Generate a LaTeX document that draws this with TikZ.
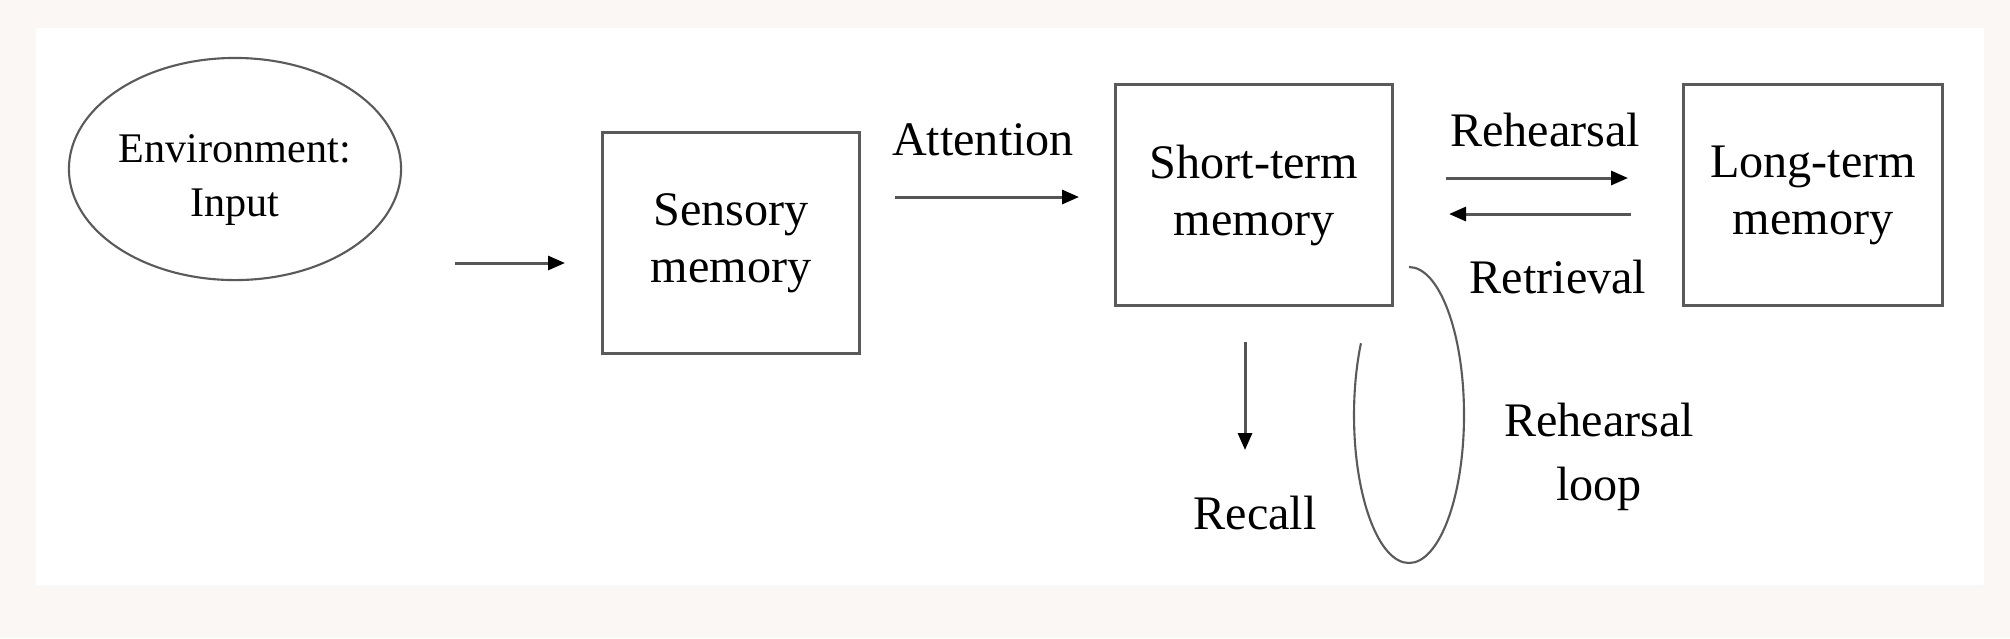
\documentclass[tikz,border=0pt]{standalone}
\usepackage{fontspec}
\setmainfont{Liberation Serif}
\usetikzlibrary{positioning,arrows.meta,shapes.geometric}
\definecolor{pagebg}{HTML}{FAF7F4}
\definecolor{boxline}{HTML}{5A5A5A}
\definecolor{arrowline}{HTML}{555555}

\begin{document}
\begin{tikzpicture}[x=0.01cm,y=-0.01cm,
  memorybox/.style={draw=boxline, line width=0.85pt, minimum height=2.2cm, align=center, font=\fontsize{13.7}{16.2}\selectfont},
  flow/.style={draw=arrowline, line width=0.85pt, -{Triangle[length=0.17cm,width=0.14cm,color=black]}},
  lbl/.style={align=center, font=\fontsize{13.7}{16.2}\selectfont}]
\fill[pagebg] (0,0) rectangle (2010,638);
\fill[white] (36,28) rectangle (1984,585);
\useasboundingbox (0,0) rectangle (2010,638);

% stores
\node[ellipse, draw=boxline, line width=0.6pt, inner sep=0pt, minimum width=3.32cm, minimum height=2.22cm] (env) at (235,169) {};
\node[align=center, font=\fontsize{12}{15.4}\selectfont] (envtext) at (235,180) {Environment:\\Input};
\node[memorybox, minimum width=2.56cm] (sensory) at (731,243) {Sensory\\memory};
\node[memorybox, minimum width=2.77cm] (stm) at (1254,195) {Short-term\\memory};
\node[memorybox, minimum width=2.59cm] (ltm) at (1813,195) {Long-term\\memory};

% arrow ends
\coordinate (envout) at (455,263);
\coordinate (sensin) at (565,263);
\coordinate (attfrom) at (895,197);
\coordinate (attto) at (1079,197);
\coordinate (rehfrom) at (1446,178);
\coordinate (rehto) at (1628,178);
\coordinate (retfrom) at (1631,214);
\coordinate (retto) at (1449,214);
\coordinate (recfrom) at (1245,342);
\coordinate (recto) at (1245,450);

\draw[flow] (envout) -- (sensin);
\draw[flow] (attfrom) -- (attto);
\draw[flow] (rehfrom) -- (rehto);
\draw[flow] (retfrom) -- (retto);
\draw[flow] (recfrom) -- (recto);

% labels
\node[lbl] (attention) at (983,140) {Attention};
\node[lbl] (rehearsal) at (1545,130) {Rehearsal};
\node[lbl] (retrieval) at (1558,277) {Retrieval};
\node[lbl] (recall) at (1255,513) {Recall};
\node[lbl, font=\fontsize{13.7}{18}\selectfont] (looplbl) at (1599,457) {Rehearsal\\loop};

% rehearsal loop
\draw[draw=boxline, line width=0.6pt] (1409,267) arc[start angle=-90, end angle=209, x radius=55, y radius=148];
\end{tikzpicture}
\end{document}
